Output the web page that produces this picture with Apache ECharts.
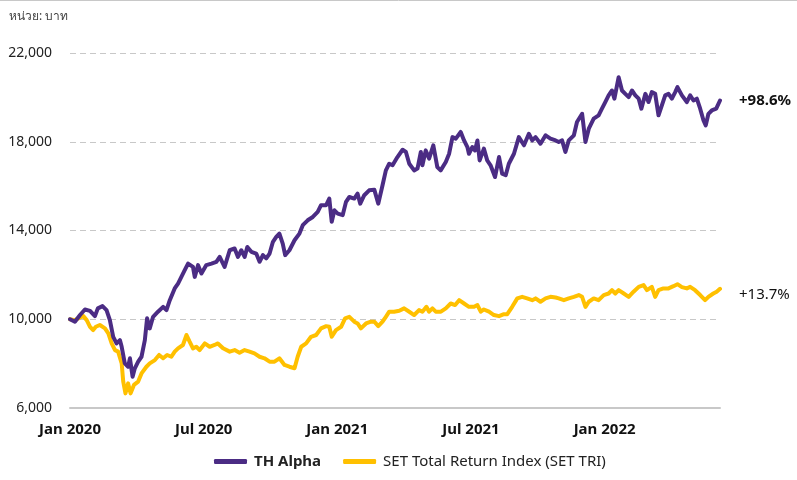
<!DOCTYPE html>
<html>
<head>
<meta charset="utf-8">
<script src="https://cdn.jsdelivr.net/npm/echarts@6/dist/echarts.min.js"></script>
<style>
  html, body { margin: 0; padding: 0; background: #fff; }
  #chart { width: 797px; height: 480px; }
</style>
</head>
<body>
<div id="chart"></div>
<script>
// x values are months since Jan 2020
var monthTicks = ['Jan 2020', 'Jul 2020', 'Jan 2021', 'Jul 2021', 'Jan 2022'];
var seriesNames = ['TH Alpha', 'SET Total Return Index (SET TRI)'];
var endLabels = ['+98.6%', '+13.7%'];

var alphaMonths = [0, 0.22, 0.45, 0.67, 0.90, 1.12, 1.25, 1.46, 1.64, 1.79, 1.94, 2.09, 2.24, 2.32, 2.46, 2.61, 2.69, 2.81, 2.91, 3.06,
  3.21, 3.36, 3.46, 3.58, 3.73, 3.95, 4.18, 4.33, 4.48, 4.70, 4.85, 5.00, 5.15, 5.30, 5.52, 5.60, 5.75, 5.90, 6.12, 6.35,
  6.57, 6.72, 6.94, 7.17, 7.39, 7.54, 7.69, 7.84, 7.96, 8.14, 8.36, 8.51, 8.66, 8.81, 8.96, 9.11, 9.26, 9.40, 9.55, 9.66,
  9.85, 10.08, 10.30, 10.45, 10.67, 10.90, 11.12, 11.27, 11.50, 11.64, 11.75, 11.87, 12.02, 12.24, 12.39, 12.54, 12.76, 12.91, 13.03, 13.21,
  13.43, 13.66, 13.84, 14.03, 14.18, 14.33, 14.48, 14.70, 14.93, 15.08, 15.23, 15.45, 15.60, 15.75, 15.82, 15.97, 16.12, 16.31, 16.49, 16.64,
  16.87, 17.02, 17.17, 17.32, 17.54, 17.69, 17.84, 17.91, 18.06, 18.18, 18.29, 18.39, 18.58, 18.73, 18.88, 19.08, 19.26, 19.40, 19.56, 19.70,
  19.93, 20.15, 20.38, 20.60, 20.75, 20.90, 21.12, 21.35, 21.57, 21.80, 21.94, 22.09, 22.24, 22.39, 22.62, 22.76, 22.99, 23.14, 23.29, 23.51,
  23.73, 23.88, 24.03, 24.18, 24.33, 24.44, 24.63, 24.78, 24.93, 25.08, 25.23, 25.38, 25.53, 25.65, 25.83, 25.97, 26.12, 26.27, 26.42, 26.57,
  26.72, 26.87, 27.02, 27.17, 27.27, 27.47, 27.69, 27.84, 27.99, 28.14, 28.29, 28.44, 28.54, 28.66, 28.81, 29.01, 29.18];
var alphaValues = [10000, 9890, 10190, 10440, 10380, 10140, 10490, 10590, 10410, 9960, 9210, 8910, 9060, 8760, 8010, 7860, 8240, 7410, 7790, 8090,
  8310, 9060, 10040, 9590, 10110, 10340, 10560, 10410, 10860, 11390, 11610, 11910, 12210, 12510, 12360, 11910, 12440, 12060, 12440, 12510,
  12590, 12810, 12360, 13110, 13190, 12810, 13110, 12810, 13260, 13040, 12960, 12590, 12890, 12740, 12960, 13490, 13710, 13860, 13410, 12890,
  13110, 13560, 13860, 14240, 14460, 14610, 14840, 15140, 15140, 15440, 14390, 14910, 14760, 14690, 15290, 15510, 15440, 15660, 15210, 15590,
  15810, 15840, 15210, 16040, 16710, 17010, 16940, 17310, 17640, 17540, 17010, 16710, 16790, 17540, 16940, 17610, 17240, 17840, 16860, 16710,
  17090, 17460, 18210, 18140, 18440, 18060, 17760, 17460, 17760, 17610, 18060, 17160, 17690, 17160, 16940, 16410, 17310, 16560, 16490, 17010,
  17460, 18210, 17840, 18360, 18060, 18210, 17910, 18290, 18140, 18060, 17990, 18060, 17540, 18060, 18290, 18890, 19260, 17990, 18590, 19040,
  19190, 19490, 19790, 20090, 20310, 19940, 20910, 20310, 20160, 20010, 20310, 20090, 19940, 19490, 20160, 19790, 20240, 20160, 19190, 19640,
  20090, 20160, 19940, 20240, 20460, 20090, 19790, 20090, 19860, 19940, 19490, 18960, 18740, 19260, 19410, 19490, 19860];

var setMonths = [0, 0.22, 0.45, 0.60, 0.75, 0.90, 1.04, 1.16, 1.34, 1.57, 1.72, 1.87, 2.02, 2.16, 2.32, 2.39, 2.49, 2.61, 2.72, 2.87,
  3.06, 3.21, 3.43, 3.58, 3.81, 4.00, 4.18, 4.36, 4.55, 4.70, 4.85, 5.07, 5.23, 5.37, 5.52, 5.67, 5.82, 6.05, 6.27, 6.49,
  6.64, 6.87, 6.94, 7.17, 7.39, 7.61, 7.84, 8.06, 8.28, 8.51, 8.73, 8.96, 9.18, 9.40, 9.63, 9.85, 10.08, 10.22, 10.38, 10.60,
  10.82, 11.05, 11.27, 11.50, 11.64, 11.75, 11.94, 12.17, 12.35, 12.54, 12.76, 12.91, 13.06, 13.29, 13.51, 13.66, 13.84, 14.03, 14.18, 14.33,
  14.55, 14.78, 15.00, 15.23, 15.45, 15.67, 15.82, 16.00, 16.12, 16.27, 16.42, 16.65, 16.87, 17.09, 17.29, 17.47, 17.69, 17.91, 18.14, 18.29,
  18.44, 18.58, 18.81, 19.03, 19.26, 19.48, 19.63, 19.85, 20.08, 20.30, 20.52, 20.75, 20.90, 21.12, 21.35, 21.57, 21.80, 21.94, 22.17, 22.39,
  22.62, 22.84, 22.99, 23.14, 23.29, 23.51, 23.73, 23.96, 24.18, 24.33, 24.48, 24.63, 24.86, 25.08, 25.30, 25.53, 25.75, 25.90, 26.12, 26.27,
  26.42, 26.64, 26.87, 27.09, 27.27, 27.47, 27.69, 27.84, 28.06, 28.29, 28.51, 28.66, 28.88, 29.03, 29.18];
var setValues = [10000, 9960, 10080, 10140, 9960, 9660, 9510, 9660, 9740, 9590, 9360, 8910, 8610, 8540, 8010, 7190, 6660, 7110, 6660, 7040,
  7190, 7560, 7860, 8010, 8160, 8390, 8240, 8390, 8310, 8540, 8690, 8840, 9290, 8990, 8690, 8760, 8610, 8910, 8760, 8840,
  8910, 8690, 8610, 8540, 8610, 8490, 8610, 8540, 8460, 8310, 8240, 8090, 8090, 8240, 7940, 7860, 7790, 8310, 8760, 8910,
  9210, 9290, 9590, 9690, 9660, 9210, 9510, 9660, 10040, 10110, 9890, 9810, 9590, 9810, 9890, 9890, 9690, 9890, 10110, 10340,
  10340, 10380, 10490, 10340, 10190, 10410, 10340, 10560, 10340, 10490, 10340, 10340, 10490, 10710, 10640, 10860, 10710, 10560, 10560, 10640,
  10340, 10440, 10340, 10190, 10140, 10230, 10230, 10560, 10940, 11010, 10940, 10860, 10940, 10790, 10940, 11010, 10980, 10940, 10860, 10940,
  11010, 11090, 11010, 10560, 10790, 10940, 10860, 11090, 11160, 11310, 11160, 11310, 11160, 11010, 11240, 11460, 11540, 11310, 11460, 11010,
  11310, 11390, 11390, 11490, 11580, 11450, 11390, 11460, 11310, 11090, 10860, 11010, 11160, 11240, 11370];

function pairs(xs, ys) {
  var out = [];
  for (var i = 0; i < xs.length; i++) out.push([xs[i], ys[i]]);
  return out;
}

var FONT = '"Noto Sans", "Open Sans", sans-serif';
var colors = ['#4b2c84', '#ffc000'];

var chart = echarts.init(document.getElementById('chart'), null, { renderer: 'canvas' });

var option = {
  animation: false,
  backgroundColor: '#ffffff',
  textStyle: { fontFamily: FONT },
  title: {
    text: 'หน่วย: บาท',
    left: 4,
    top: 6,
    textStyle: { fontSize: 12, fontWeight: 'normal', color: '#444', fontFamily: FONT }
  },
  graphic: [{
    type: 'line',
    shape: { x1: 0, y1: 0.5, x2: 797, y2: 0.5 },
    style: { stroke: '#c8c8c8', lineWidth: 1 }
  }],
  legend: {
    left: 209,
    bottom: 6,
    icon: 'roundRect',
    itemWidth: 33,
    itemHeight: 5,
    itemGap: 22,
    textStyle: { fontSize: 15, color: '#222', fontFamily: FONT, padding: [0, 0, 0, 2] },
    data: [
      { name: seriesNames[0], textStyle: { fontWeight: 'bold' } },
      { name: seriesNames[1], textStyle: { fontWeight: 'normal' } }
    ]
  },
  grid: { left: 70, right: 77, top: 53, bottom: 72, containLabel: false },
  xAxis: {
    type: 'value',
    min: 0,
    max: 29.18,
    interval: 6,
    axisLine: { show: true, lineStyle: { color: '#c8c8c8', width: 2 } },
    axisTick: { show: false },
    splitLine: { show: false },
    axisLabel: {
      margin: 14,
      fontSize: 15,
      fontWeight: 'bold',
      color: '#111',
      fontFamily: FONT,
      formatter: function (v) {
        var i = Math.round(v / 6);
        return Math.abs(v - i * 6) < 1e-6 && monthTicks[i] ? monthTicks[i] : '';
      }
    }
  },
  yAxis: {
    type: 'value',
    min: 6000,
    max: 22000,
    interval: 4000,
    axisLine: { show: false },
    axisTick: { show: false },
    splitLine: { show: true, lineStyle: { color: '#c8c8c8', type: [6, 4], width: 1 } },
    axisLabel: {
      margin: 18,
      fontSize: 14,
      color: '#222',
      fontFamily: FONT,
      formatter: function (v) { return echarts.format.addCommas(v); }
    }
  },
  series: [
    {
      name: seriesNames[0],
      type: 'line',
      data: pairs(alphaMonths, alphaValues),
      symbol: 'none',
      z: 3,
      lineStyle: { color: colors[0], width: 4, cap: 'round', join: 'round' },
      itemStyle: { color: colors[0] },
      endLabel: {
        show: true,
        distance: 19,
        formatter: function () { return endLabels[0]; },
        fontSize: 15,
        fontWeight: 'bold',
        color: '#111',
        fontFamily: FONT
      }
    },
    {
      name: seriesNames[1],
      type: 'line',
      data: pairs(setMonths, setValues),
      symbol: 'none',
      z: 2,
      lineStyle: { color: colors[1], width: 4, cap: 'round', join: 'round' },
      itemStyle: { color: colors[1] },
      endLabel: {
        show: true,
        distance: 19,
        offset: [0, 6],
        formatter: function () { return endLabels[1]; },
        fontSize: 15,
        fontWeight: 'normal',
        color: '#111',
        fontFamily: FONT
      }
    }
  ]
};

chart.setOption(option);
</script>
</body>
</html>
